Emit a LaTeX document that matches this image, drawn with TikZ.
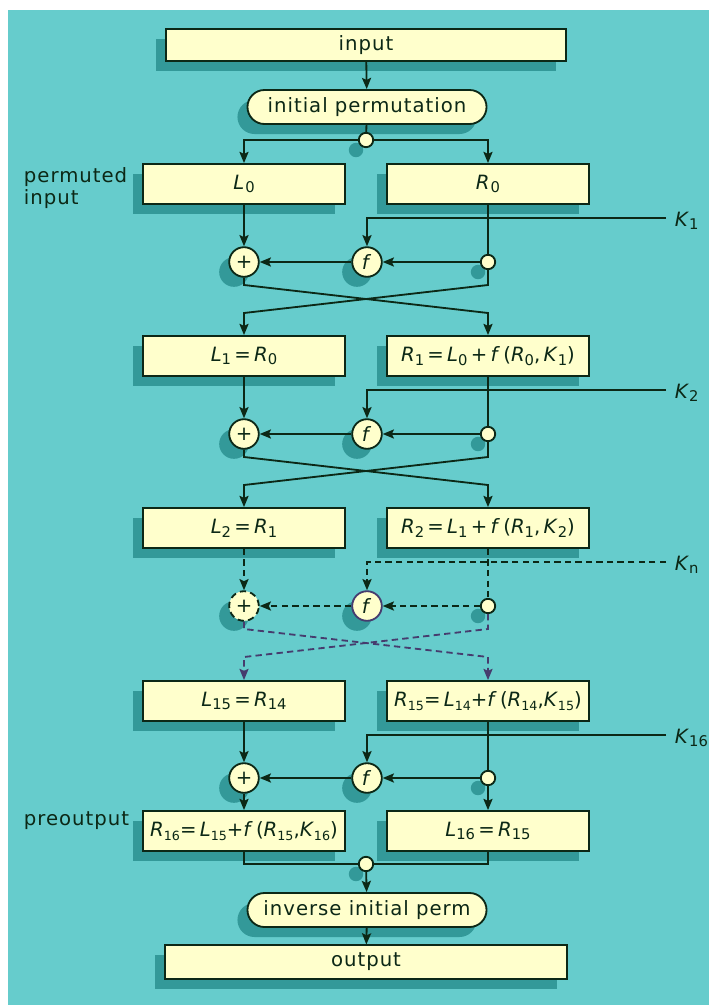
\documentclass[tikz,border=0pt]{standalone}
\usepackage{fontspec}
\setmainfont{DejaVu Sans}[LetterSpace=5]
\newfontfamily\tightfont{DejaVu Sans}
\usetikzlibrary{arrows.meta,shadows,shapes.misc}

\definecolor{bgteal}{RGB}{102,204,204}
\definecolor{shteal}{RGB}{51,153,153}
\definecolor{boxfill}{RGB}{255,255,204}
\definecolor{ink}{RGB}{12,40,22}
\definecolor{dashink}{RGB}{70,60,110}

% variable with a lowered index
\newcommand{\vr}[2]{\textit{#1}\raisebox{-0.35ex}{\fontsize{10.5}{11}\selectfont #2}}
\newcommand{\vs}[2]{\textit{#1}\raisebox{-0.35ex}{\fontsize{9}{10}\selectfont #2}}

\begin{document}
\begin{tikzpicture}[
    x=0.025cm, y=-0.025cm,
    every node/.style={font=\fontsize{14}{15}\selectfont, text=ink},
    shade/.style={drop shadow={shadow xshift=-0.25cm, shadow yshift=-0.25cm, fill=shteal, opacity=1}},
    box/.style={draw=ink, line width=1.3pt, fill=boxfill, minimum width=5.05cm, minimum height=1cm, inner sep=0pt, shade},
    pill/.style={rounded rectangle, draw=ink, line width=1.3pt, fill=boxfill, minimum width=5.975cm, minimum height=0.85cm, inner sep=0pt, shade},
    op/.style={circle, draw=ink, line width=1.3pt, fill=boxfill, minimum size=0.74cm, inner sep=0pt, shade},
    dot/.style={circle, draw=ink, line width=1.3pt, fill=boxfill, minimum size=0.36cm, inner sep=0pt, shade},
    klabel/.style={anchor=base west, font=\tightfont\fontsize{14}{15}\selectfont},
    wire/.style={draw=ink, line width=1.3pt},
    flow/.style={wire, -{Stealth[length=8pt, width=6.5pt, inset=1.5pt]}},
    dashline/.style={dash pattern=on 4.5pt off 3pt},
]
\useasboundingbox (0,0) rectangle (709,1007);
\fill[white] (0,0) rectangle (709,1007);
\fill[bgteal] (8,10) rectangle (709,1005);

% top
\node[box, minimum width=10cm, minimum height=0.8cm] (in) at (366,45) {input};
\node[pill] (ip) at (367,107) {initial permutation};
\node[dot] (j1) at (366,140) {};
\node[anchor=north west, align=left] (pin) at (19,163) {permuted\\input};

\node[box] (L0) at (244,184) {\vr{L}{0}};
\node[box] (R0) at (488,184) {\vr{R}{0}};

% round 1
\node[op] (p1) at (244,262) {+};
\node[op] (f1) at (367,262) {\textit{f}};
\node[dot] (c1) at (488,262) {};
\coordinate (k1) at (666,218);
\node[klabel] (k1l) at (670,226) {\vr{K}{1}};

\node[box] (L1) at (244,356) {\tightfont\vr{L}{1}\,=\,\vr{R}{0}};
\node[box] (R1) at (488,356) {\tightfont\vr{R}{1}\,=\,\vr{L}{0}\,+\,\textit{f}\,(\vr{R}{0},\,\vr{K}{1})};

% round 2
\node[op] (p2) at (244,434) {+};
\node[op] (f2) at (367,434) {\textit{f}};
\node[dot] (c2) at (488,434) {};
\coordinate (k2) at (666,390);
\node[klabel] (k2l) at (670,398) {\vr{K}{2}};

\node[box] (L2) at (244,528) {\tightfont\vr{L}{2}\,=\,\vr{R}{1}};
\node[box] (R2) at (488,528) {\tightfont\vr{R}{2}\,=\,\vr{L}{1}\,+\,\textit{f}\,(\vr{R}{1},\,\vr{K}{2})};

% round n
\node[op, dashline] (pn) at (244,606) {+};
\node[op, draw=dashink] (fn) at (367,606) {\textit{f}};
\node[dot] (cn) at (488,606) {};
\coordinate (kn) at (666,562);
\node[klabel] (knl) at (670,570) {\textit{K}\raisebox{-0.35ex}{\fontsize{10.5}{11}\selectfont n}};

\node[box] (L15) at (244,701) {\tightfont\vr{L}{15}\,=\,\vr{R}{14}};
\node[box] (R15) at (488,701) {\tightfont\vs{R}{15}=\,\vs{L}{14}+\textit{f}\,(\vs{R}{14},\vs{K}{15})};

% round 16
\node[op] (p16) at (244,778) {+};
\node[op] (f16) at (367,778) {\textit{f}};
\node[dot] (c16) at (488,778) {};
\coordinate (k16) at (666,735);
\node[klabel] (k16l) at (670,743) {\vr{K}{16}};

\node[box] (R16) at (244,831) {\tightfont\vs{R}{16}=\,\vs{L}{15}+\textit{f}\,(\vs{R}{15},\vs{K}{16})};
\node[box] (L16) at (488,831) {\tightfont\vr{L}{16}\,=\,\vr{R}{15}};
\node[anchor=base west] (pout) at (19,825) {preoutput};

% bottom
\node[dot] (j2) at (366,864) {};
\node[pill] (iip) at (367,910) {inverse initial perm};
\node[box, minimum width=10.05cm, minimum height=0.83cm] (out) at (366,962) {output};

% wiring
\draw[flow] (in) -- (ip);
\draw[wire] (ip) -- (j1);
\draw[flow] (j1) -- (244,140) -- (L0);
\draw[flow] (j1) -- (488,140) -- (R0);

\draw[flow] (L0) -- (p1);
\draw[wire] (R0) -- (c1);
\draw[flow] (k1) -| (f1);
\draw[flow] (c1) -- (f1);
\draw[flow] (f1) -- (p1);
\draw[flow] (p1) -- (244,285) -- (488,313) -- (R1);
\draw[flow] (c1) -- (488,285) -- (244,313) -- (L1);

\draw[flow] (L1) -- (p2);
\draw[wire] (R1) -- (c2);
\draw[flow] (k2) -| (f2);
\draw[flow] (c2) -- (f2);
\draw[flow] (f2) -- (p2);
\draw[flow] (p2) -- (244,457) -- (488,485) -- (R2);
\draw[flow] (c2) -- (488,457) -- (244,485) -- (L2);

\draw[flow, dashline] (L2) -- (pn);
\draw[wire, dashline] (R2) -- (cn);
\draw[flow, dashline] (kn) -| (fn);
\draw[flow, dashline] (cn) -- (fn);
\draw[flow, dashline] (fn) -- (pn);
\draw[flow, dashline, draw=dashink] (pn) -- (244,629) -- (488,657) -- (R15);
\draw[flow, dashline, draw=dashink] (cn) -- (488,629) -- (244,657) -- (L15);

\draw[flow] (L15) -- (p16);
\draw[wire] (R15) -- (c16);
\draw[flow] (k16) -| (f16);
\draw[flow] (c16) -- (f16);
\draw[flow] (f16) -- (p16);
\draw[flow] (p16) -- (R16);
\draw[flow] (c16) -- (L16);

\draw[wire] (R16) -- (244,864) -- (j2);
\draw[wire] (L16) -- (488,864) -- (j2);
\draw[flow] (j2) -- (iip);
\draw[flow] (iip) -- (out);
\end{tikzpicture}
\end{document}
